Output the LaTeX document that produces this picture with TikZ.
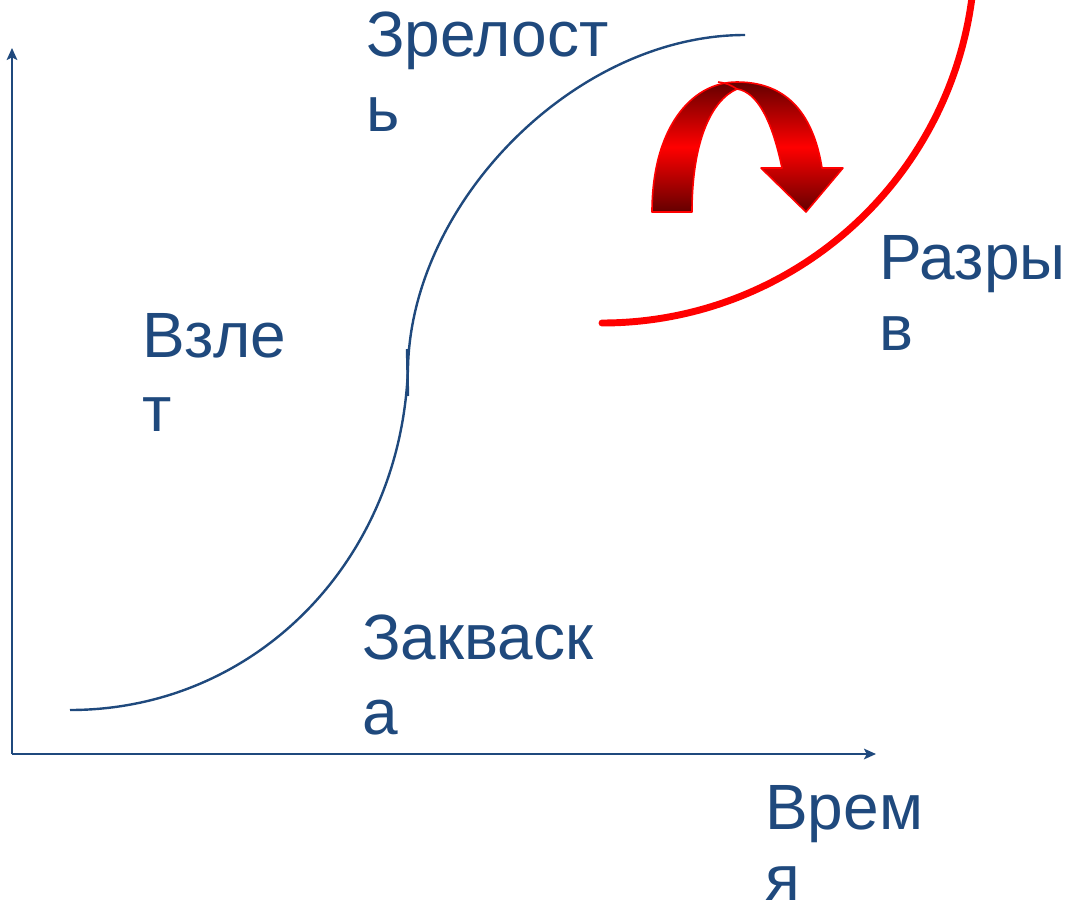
\documentclass[tikz,border=0pt]{standalone}
\usepackage{fontspec}
\setmainfont{Liberation Sans}
\usepackage{xcolor}
\usetikzlibrary{arrows.meta}
\definecolor{axisblue}{RGB}{31,73,125}
\definecolor{darkred}{RGB}{100,0,0}

\begin{document}
\begin{tikzpicture}[x=0.75pt, y=-0.75pt,
  lbl/.style={font=\fontsize{48}{56}\selectfont, text=axisblue, align=left, inner sep=0pt, anchor=north west},
  tight/.style={font=\fontsize{48}{53.5}\selectfont},
  axis/.style={axisblue, line width=1.4pt, -{Stealth[length=9pt, width=8pt, inset=2pt]}},
  scurve/.style={axisblue, line width=1.8pt}]
\useasboundingbox (0,0) rectangle (1068,911);
% axes
\coordinate (o) at (12,754);
\coordinate (ytop) at (12,48);
\coordinate (xend) at (876,754);
\draw[axis] (o) -- (ytop);
\draw[axis] (o) -- (xend);
% S-curve
\draw[scurve] (70,710) .. controls (256,710) and (402,560) .. (408,367)
  .. controls (412,201) and (576,35) .. (745,35);
\draw[scurve] (407,349) -- (408,396);
% break arc
\draw[red, line width=5.2pt, line cap=round] (602,323) arc[start angle=90, end angle=-6, radius=373];
% jump arrow
\shade[draw=red, line width=1.2pt, line join=round, top color=darkred, bottom color=darkred, middle color=red]
  (652,212) .. controls (652,130) and (690,82) .. (737,82)
  .. controls (795,82) and (815,125) .. (822,168) -- (843,168) -- (806,212) -- (761,168) -- (782,168)
  .. controls (772,120) and (757,92) .. (737,89)
  .. controls (712,100) and (692,140) .. (692,212) -- cycle;
\draw[red, line width=1.2pt] (737,89) .. controls (731,85) and (726,83) .. (718,82);
% labels
\node[lbl] (mat) at (366,12) {Зрелост\\ь};
\node[lbl] (up) at (142,313) {Взле\\т};
\node[lbl] (start) at (362,615) {Закваск\\а};
\node[lbl, tight] (gap) at (879,235) {Разры\\в};
\node[lbl, tight] (time) at (765,785) {Врем\\я};
\end{tikzpicture}
\end{document}
